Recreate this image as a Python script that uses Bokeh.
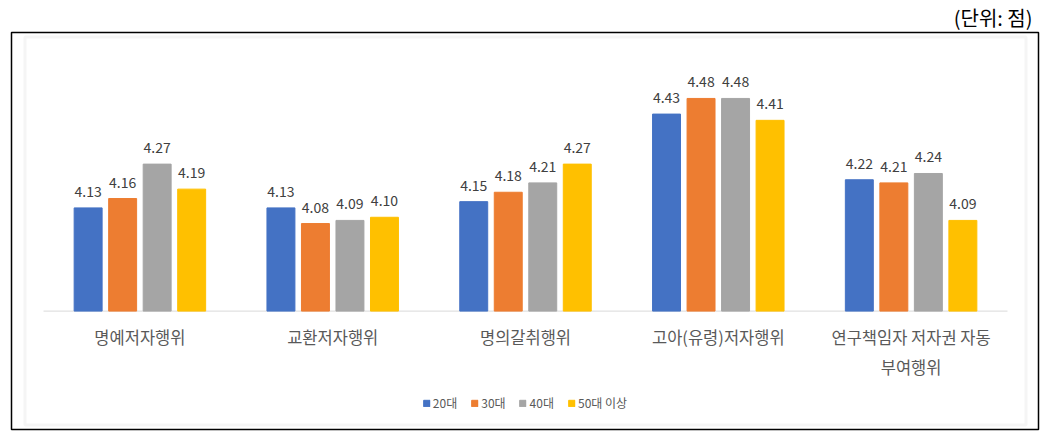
import numpy as np
from bokeh.plotting import figure
from bokeh.models import Range1d, Legend, LegendItem, BoxAnnotation
from bokeh.core.properties import value
from bokeh.embed import file_html
from bokeh.resources import INLINE

# ---- data ----
categories = ["명예저자행위", "교환저자행위", "명의갈취행위", "고아(유령)저자행위",
              "연구책임자 저자권 자동\n부여행위"]
series = ["20대", "30대", "40대", "50대 이상"]
v20 = [4.13, 4.13, 4.15, 4.43, 4.22]
v30 = [4.16, 4.08, 4.18, 4.48, 4.21]
v40 = [4.27, 4.09, 4.21, 4.48, 4.24]
v50 = [4.19, 4.10, 4.27, 4.41, 4.09]
unit_title = "(단위: 점)"

# ---- style ----
colors = ["#4472C4", "#ED7D31", "#A5A5A5", "#FFC000"]
FONT = "Noto Sans CJK KR"
y_base = 3.8
XS = 192.8   # px per category
YS = 314.3   # px per unit
x_start, x_end = -32 / XS, 5 + 31 / XS
y_start, y_end = y_base - 119 / YS, y_base + 280 / YS
offsets = [-0.2685, -0.0895, 0.0895, 0.2685]
bar_w = 0.145

p = figure(width=1040, height=431,
           x_range=Range1d(x_start, x_end), y_range=Range1d(y_start, y_end),
           x_axis_type=None, y_axis_type=None,
           output_backend="svg", toolbar_location=None,
           min_border_left=11, min_border_right=2, min_border_bottom=2, min_border_top=0)
p.outline_line_color = "black"
p.outline_line_width = 1.5
p.background_fill_color = "white"
p.border_fill_color = "white"

p.title.text = unit_title
p.title.align = "right"
p.title.text_font = FONT
p.title.text_font_size = "20px"
p.title.text_font_style = "normal"
p.title.text_color = "black"
p.title.standoff = 1
p.title.offset = 6

# inner light frame
p.add_layout(BoxAnnotation(left=x_start + 13.5 / XS, right=x_end - 12.5 / XS,
                           top=y_end - 4.5 / YS, bottom=y_start + 4.5 / YS,
                           fill_alpha=0, line_color="#DEDEDE", line_width=3))

xc = np.arange(len(categories)) + 0.5
# baseline
p.segment(x0=[0], x1=[len(categories)], y0=[y_base], y1=[y_base],
          line_color="#D9D9D9", line_width=1)

items = []
for vals, name, col, off in zip([v20, v30, v40, v50], series, colors, offsets):
    r = p.vbar(x=xc + off, top=vals, bottom=y_base, width=bar_w,
               fill_color=col, line_color=col)
    items.append(LegendItem(label=name, renderers=[r]))
    p.text(x=xc + off, y=vals, text=[f"{v:.2f}" for v in vals],
           text_align="center", text_baseline="bottom", y_offset=-11,
           text_font=value(FONT), text_font_size="14px", text_color="#404040")

# category labels
p.text(x=xc, y=[y_base] * len(categories), text=categories,
       text_align="center", text_baseline="top", y_offset=14,
       text_font=value(FONT), text_font_size="16.5px", text_color="#595959",
       text_line_height=1.24)

legend = Legend(items=items, orientation="horizontal", location="bottom_center",
                label_text_font=FONT, label_text_font_size="12px",
                label_text_color="#595959", glyph_width=8, glyph_height=8,
                label_standoff=3, spacing=13, padding=0, margin=18,
                label_height=14, border_line_color=None, background_fill_alpha=0)
p.add_layout(legend, "center")

open("out.html", "w").write(file_html(p, INLINE))
